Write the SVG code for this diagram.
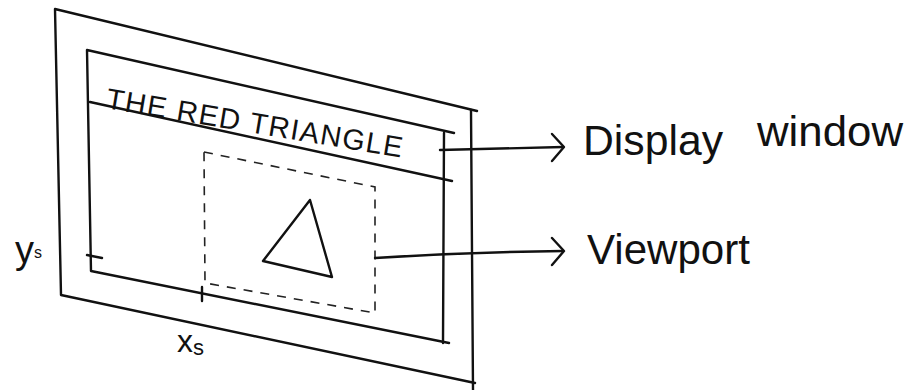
<svg xmlns="http://www.w3.org/2000/svg" width="921" height="390" viewBox="0 0 921 390">
<style>
.ln{fill:none;stroke:#111;stroke-width:2.4;stroke-linecap:round;stroke-linejoin:round}
.dash{fill:none;stroke:#222;stroke-width:1.6;stroke-dasharray:9 8}
.t{font-family:"Liberation Sans",Arial,sans-serif;fill:#111}
</style>
<rect width="921" height="390" fill="#fff"/>
<g id="screen">
<polyline class="ln" points="477,111 55,9 61,295 475,383"/>
<line class="ln" x1="471" y1="110" x2="473" y2="390"/>
</g>
<g id="display-window">
<polyline class="ln" points="454,133 87,50 91,271 449,343"/>
<line class="ln" x1="90" y1="102" x2="452" y2="181"/>
<line class="ln" x1="444" y1="133" x2="443" y2="343"/>
<text class="t" x="105" y="108" font-size="29" textLength="300" lengthAdjust="spacing" transform="rotate(9.5 105 108)">THE RED TRIANGLE</text>
</g>
<g id="viewport">
<polygon class="dash" points="204,152 375,187 375,313 205,283"/>
<polygon class="ln" points="310,200 263,261 332,277"/>
</g>
<g id="axes">
<line class="ln" x1="87" y1="255" x2="102" y2="258"/>
<line class="ln" x1="202" y1="287" x2="202" y2="301"/>
<text class="t" x="15" y="263" font-size="38">y<tspan font-size="16" dy="-5">s</tspan></text>
<text class="t" x="177" y="352" font-size="32">x<tspan font-size="22" dy="3">s</tspan></text>
</g>
<g id="connectors">
<line class="ln" x1="440" y1="150" x2="563" y2="147"/>
<polyline class="ln" points="552,134 564,147 552,161"/>
<path class="ln" d="M375,258 Q470,252 563,251"/>
<polyline class="ln" points="552,238 564,251 552,265"/>
</g>
<g id="labels">
<text class="t" font-size="42"><tspan x="583" y="155" textLength="140" lengthAdjust="spacingAndGlyphs">Display</tspan><tspan x="757" y="146" textLength="146" lengthAdjust="spacingAndGlyphs">window</tspan></text>
<text class="t" x="587" y="264" font-size="42" textLength="163" lengthAdjust="spacingAndGlyphs">Viewport</text>
</g>
</svg>
